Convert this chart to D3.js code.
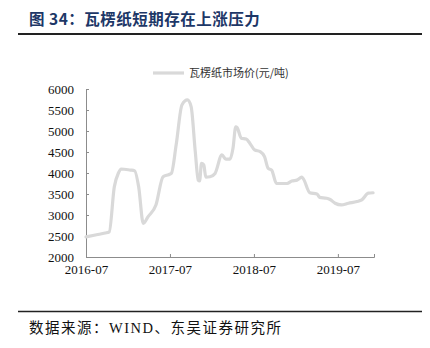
<!DOCTYPE html>
<html>
<head>
<meta charset="utf-8">
<script src="https://cdn.jsdelivr.net/npm/d3@7/dist/d3.min.js"></script>
<style>
  html, body { margin: 0; padding: 0; background: #fff; }
  svg { display: block; }
</style>
</head>
<body>
<svg id="chart" width="430" height="348"></svg>
<script>
// Corrugated paper market price, yuan per tonne
const dates = [
  "2016-07-01","2016-08-16","2016-09-22","2016-10-10","2016-11-01","2016-11-19","2016-12-01",
  "2017-01-10","2017-01-28","2017-02-15","2017-03-07","2017-03-28","2017-05-01","2017-06-01",
  "2017-06-25","2017-07-07","2017-07-28","2017-08-22","2017-09-15","2017-10-01","2017-10-19",
  "2017-11-01","2017-11-07","2017-11-15","2017-11-25","2017-12-04","2017-12-22","2018-01-13",
  "2018-02-12","2018-03-01","2018-03-19","2018-04-01","2018-04-13","2018-04-19","2018-05-07",
  "2018-05-28","2018-06-13","2018-07-04","2018-07-28","2018-08-16","2018-09-01","2018-09-16",
  "2018-10-07","2018-11-22","2018-12-13","2019-01-04","2019-01-25","2019-02-01","2019-03-01",
  "2019-04-01","2019-04-13","2019-05-13","2019-05-28","2019-06-19","2019-07-16","2019-08-16",
  "2019-09-22","2019-10-13","2019-11-10","2019-12-01"
];
const prices = [
  2480,2530,2570,2600,3670,4000,4095,
  4070,4055,3670,2800,2960,3240,3910,
  3960,3990,4670,5620,5740,5580,4510,
  3830,3810,4230,4190,3900,3910,3990,
  4430,4330,4330,4590,5100,5080,4830,
  4810,4710,4550,4510,4390,4110,4070,
  3750,3750,3810,3830,3900,3860,3530,
  3500,3420,3400,3370,3280,3240,3280,
  3320,3360,3520,3530
];
const yTicks = [2000,2500,3000,3500,4000,4500,5000,5500,6000];
const xTickLabels = ["2016-07","2017-07","2018-07","2019-07"];
const seriesName = "瓦楞纸市场价(元/吨)";
const titleText = "图 34：瓦楞纸短期存在上涨压力";
const sourceParts = ["数据来源：", "WIND", "、东吴证券研究所"];

const parse = d3.timeParse("%Y-%m-%d");
const parseMonth = d3.timeParse("%Y-%m");
const data = dates.map((d, i) => ({ date: parse(d), value: prices[i] }));

const svg = d3.select("#chart");
const serif = "'Liberation Serif','Times New Roman',serif";
const cjk = "'Noto Sans CJK SC','Liberation Serif',serif";

// Header
svg.append("text")
  .attr("x", 29).attr("y", 25)
  .attr("fill", "#1d3767")
  .attr("font-family", cjk)
  .attr("font-weight", "bold")
  .attr("font-size", 15.5)
  .attr("letter-spacing", 0.5)
  .text(titleText);
svg.append("line")
  .attr("x1", 18).attr("x2", 422).attr("y1", 34).attr("y2", 34)
  .attr("stroke", "#222").attr("stroke-width", 2);

// Footer
svg.append("line")
  .attr("x1", 18).attr("x2", 422).attr("y1", 311.5).attr("y2", 311.5)
  .attr("stroke", "#222").attr("stroke-width", 1.5);
const src = svg.append("text")
  .attr("x", 29).attr("y", 333)
  .attr("fill", "#111")
  .attr("font-family", cjk)
  .attr("font-size", 14.5)
  .attr("letter-spacing", 1.5);
sourceParts.forEach((t, i) => {
  src.append("tspan")
    .attr("font-family", i === 1 ? serif : cjk)
    .text(t);
});

// Plot area
const x = d3.scaleTime()
  .domain([parse("2016-07-01"), parse("2019-12-05")])
  .range([86, 374]);
const y = d3.scaleLinear().domain([2000, 6000]).range([257, 89]);

const axisColor = "#8c8c8c";

const yAxis = svg.append("g")
  .attr("transform", `translate(${x.range()[0]},0)`)
  .call(d3.axisLeft(y).tickValues(yTicks).tickSize(-3).tickPadding(12).tickFormat(d3.format("d")));
const xAxis = svg.append("g")
  .attr("transform", `translate(0,${y.range()[0]})`)
  .call(d3.axisBottom(x)
    .tickValues(xTickLabels.map(parseMonth))
    .tickSize(-3).tickPadding(8)
    .tickFormat(d3.timeFormat("%Y-%m")));

[yAxis, xAxis].forEach(g => {
  g.select(".domain").attr("stroke", axisColor).attr("stroke-width", 1);
  g.selectAll(".tick line").attr("stroke", axisColor);
  g.selectAll(".tick text")
    .attr("fill", "#111")
    .attr("font-family", serif)
    .attr("font-size", 13);
});

// Price line
const line = d3.line()
  .x(d => x(d.date))
  .y(d => y(d.value))
  .curve(d3.curveMonotoneX);
svg.append("path")
  .datum(data)
  .attr("fill", "none")
  .attr("stroke", "#d9d9d9")
  .attr("stroke-width", 3.2)
  .attr("stroke-linejoin", "round")
  .attr("stroke-linecap", "round")
  .attr("d", line);

// Legend
svg.append("line")
  .attr("x1", 153).attr("x2", 184).attr("y1", 73).attr("y2", 73)
  .attr("stroke", "#d9d9d9").attr("stroke-width", 3.2);
svg.append("text")
  .attr("x", 189).attr("y", 77)
  .attr("fill", "#333")
  .attr("font-family", cjk)
  .attr("font-size", 11)
  .text(seriesName);
</script>
</body>
</html>
